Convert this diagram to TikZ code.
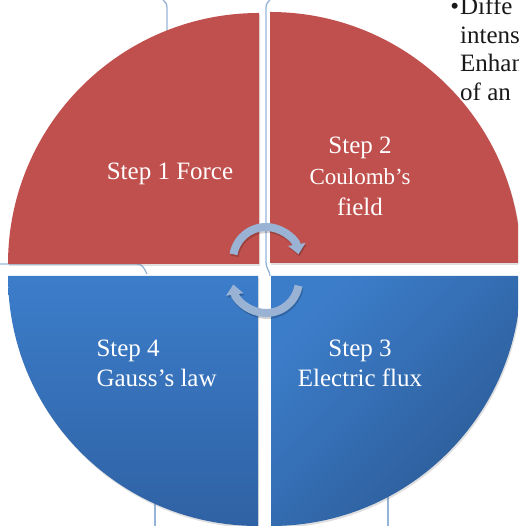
\documentclass[tikz,border=0pt]{standalone}
\usepackage{fontspec}
\setmainfont{Liberation Serif}
\usetikzlibrary{arrows.meta,shadows}
\definecolor{qred}{HTML}{C0504D}
\definecolor{qblueA}{HTML}{3C7DCA}
\definecolor{qblueB}{HTML}{2F62A4}
\definecolor{qblueC}{HTML}{2B5A95}
\definecolor{bracec}{HTML}{95B3D7}
\definecolor{cycc}{HTML}{9AB3D5}
\begin{document}
\begin{tikzpicture}[x=1pt,y=1pt,
  quad/.style={drop shadow={opacity=0.25,shadow xshift=1pt,shadow yshift=-2pt}},
  steplabel/.style={text=white,font=\fontsize{25}{30}\selectfont},
  braceline/.style={draw=bracec,line width=1.3pt},
  cycarrow/.style={draw=cycc,line width=8pt,-{Triangle[length=10pt,width=17pt]}},
  cycshadow/.style={draw=black,opacity=0.18,line width=8pt,-{Triangle[length=10pt,width=17pt]}},
  sidetext/.style={text=black!90,font=\fontsize{25}{27}\selectfont,anchor=base west,inner sep=0pt}]
\useasboundingbox (0,0) rectangle (518,526);
\clip (0,0) rectangle (518,526);
% brace outlines behind
\draw[braceline] (163,526) .. controls (167,522) .. (167,514) -- (167,470);
\draw[braceline] (270,526) .. controls (266,522) .. (266,514) -- (266,264) .. controls (266,257) and (270,255) .. (270,250);
\draw[braceline] (0,262) -- (132,262) .. controls (142,262) .. (147,252);
\draw[braceline] (155,0) -- (155,40);
\draw[braceline] (388,0) -- (388,40);
% quadrants
\fill[qred,quad] (259,262) -- (8,262) arc[start angle=180,end angle=90,radius=251] -- cycle;
\fill[qred,quad] (270,263) -- (270,514) arc[start angle=90,end angle=0,radius=251] -- cycle;
\shade[quad,top color=qblueA,bottom color=qblueB] (258,250) -- (8,250) arc[start angle=180,end angle=270,radius=250] -- cycle;
\shade[quad,top color=qblueA,bottom color=qblueC,shading angle=45] (271,250) -- (271,0) arc[start angle=270,end angle=360,radius=250] -- cycle;
% cycle arrows
\draw[cycshadow] (234.5,269.7) arc[start angle=170,end angle=10,radius=33];
\draw[cycarrow] (233.5,271.7) arc[start angle=170,end angle=10,radius=33];
\draw[cycshadow] (299.5,238.3) arc[start angle=-10,end angle=-172,radius=33];
\draw[cycarrow] (298.5,240.3) arc[start angle=-10,end angle=-172,radius=33];
% labels
\node[steplabel] (s1) at (170,352) {Step 1 Force};
\node[steplabel,align=center,font=\fontsize{25}{31}\selectfont] (s2) at (360,350) {Step 2\\{\fontsize{23}{31}\selectfont Coulomb’s}\\field};
\node[steplabel,align=left,anchor=west] (s4) at (93,163) {Step 4\\Gauss’s law};
\node[steplabel,align=center] (s3) at (360,163) {Step 3\\Electric flux};
% side text
\node[sidetext] (t1) at (460,511) {\llap{•\hspace{1pt}}Diffe};
\node[sidetext] (t2) at (460,482.5) {intens};
\node[sidetext] (t3) at (460,454) {Enhan};
\node[sidetext] (t4) at (460,425.5) {of an};
\end{tikzpicture}
\end{document}
